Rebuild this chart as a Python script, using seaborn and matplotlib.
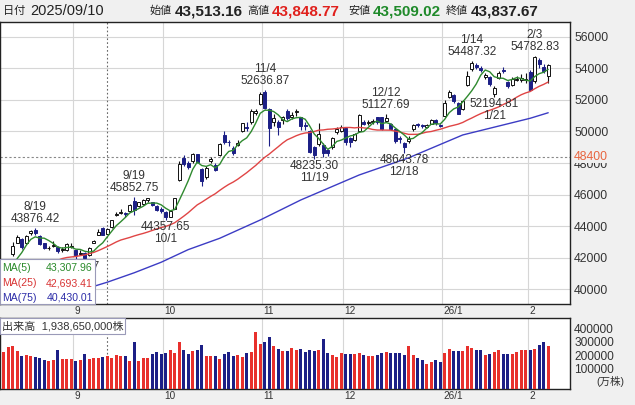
import numpy as np
import pandas as pd
import matplotlib
matplotlib.use("Agg")
import matplotlib.pyplot as plt
import matplotlib.transforms as mtransforms
from matplotlib.patches import Rectangle
import seaborn as sns

# ------------------------------------------------------------------ data
holidays = ["2025-08-11", "2025-09-15", "2025-09-23", "2025-10-13", "2025-11-03",
            "2025-11-24", "2025-12-31", "2026-01-01", "2026-01-02", "2026-01-12"]
trade_dates = pd.bdate_range("2025-08-07", "2026-02-06", freq="C", holidays=holidays)

open_ = [
    40950, 41300, 42200, 42950, 43200, 42900, 43550, 43750, 43350, 42900,
    42600, 42700, 42650, 42450, 42450, 42650, 42450, 42250, 42300, 42150,
    42950, 43450, 43900, 43513.16, 43950, 44700, 44850, 44850, 44950, 45600,
    45300, 45400, 45650, 45500, 45300, 45100, 44900, 44600, 45100, 46900,
    48300, 48000, 48100, 48550, 47650, 47100, 48150, 47900, 48500, 49750,
    49330, 48950, 49150, 50000, 50300, 50600, 51200, 51750, 52500, 51450,
    50600, 50600, 50700, 51300, 50950, 51250, 50900, 50400, 50000, 49000,
    49200, 49150, 48800, 49000, 49950, 50050, 50200, 49600, 49450, 50000,
    50600, 50550, 50600, 50900, 50900, 50650, 50450, 50150, 49600, 49300,
    49400, 50150, 50450, 50400, 50300, 50500, 50750, 50400, 51000, 52200,
    52300, 51800, 51400, 52950, 53950, 54250, 54050, 53450, 53450, 52350,
    53400, 53900, 53150, 52950, 53250, 53280, 53250, 53750, 53200, 54550,
    54100, 53500]
high = [
    41300, 41900, 42999, 43451, 43250, 43450, 43760, 43876.42, 43400, 42950,
    42750, 43050, 42700, 42650, 42900, 42900, 42500, 42450, 42350, 42650,
    43100, 43840, 43950, 43848.77, 44400, 44900, 45050, 44900, 45400, 45852.75,
    45550, 45700, 45800, 45550, 45350, 45200, 44950, 45000, 45800, 48150,
    48527, 48100, 48650, 48600, 47700, 47800, 48400, 48000, 49250, 50000,
    49450, 49100, 49450, 50550, 50600, 51400, 51450, 52500, 52636.87, 51500,
    51100, 50700, 51000, 51400, 51250, 51400, 50950, 50600, 50100, 49100,
    50550, 49300, 48900, 49650, 50300, 50400, 50250, 49650, 49900, 51100,
    50750, 50700, 50800, 50950, 50950, 51127.69, 50550, 50200, 49700, 49350,
    49700, 50500, 50550, 50500, 50450, 50800, 50800, 50500, 52000, 52650,
    52400, 51900, 52000, 53814, 54487.32, 54350, 54150, 53700, 53500, 52900,
    53850, 54100, 53200, 53450, 53550, 53650, 53700, 53900, 54782.83, 54650,
    54300, 54300]
low = [
    40800, 41200, 42100, 42900, 42550, 42850, 43400, 43450, 42800, 42550,
    42450, 42650, 42300, 42350, 42400, 42600, 41835.27, 42150, 41900, 42100,
    42900, 43400, 43450, 43509.02, 43900, 44650, 44750, 44600, 44900, 44700,
    45200, 45350, 45500, 45300, 44950, 44850, 44357.65, 44550, 45050, 46850,
    47800, 47600, 48000, 48000, 46550, 47000, 48000, 47500, 48450, 49200,
    49050, 48500, 49100, 49950, 50000, 50500, 51050, 51700, 51400, 49074,
    50350, 49800, 50500, 50700, 50800, 51000, 50100, 50100, 48650, 48235.30,
    49100, 48400, 48450, 48900, 49850, 49950, 49150, 49000, 49400, 49950,
    50400, 50400, 50500, 50500, 50100, 50600, 50100, 49300, 49300, 48643.78,
    49300, 50050, 50300, 50250, 50250, 50450, 50400, 50300, 50900, 52100,
    51800, 51100, 51350, 52900, 53850, 53950, 53800, 53350, 52900, 52194.81,
    53350, 53700, 52750, 52900, 53200, 53150, 53100, 52600, 53100, 54000,
    53700, 53100]
close = [
    41059.15, 41820.48, 42718.17, 43274.67, 42649.26, 43378.31, 43714.31, 43546.29, 42888.55, 42610.17,
    42633.29, 42807.82, 42394.40, 42520.27, 42828.79, 42718.47, 42188.79, 42310.49, 41938.89, 42580.27,
    43018.75, 43643.81, 43459.29, 43837.67, 44372.50, 44768.12, 44902.27, 44790.38, 45303.43, 45045.81,
    45493.66, 45630.31, 45754.93, 45354.99, 45043.75, 44932.63, 44550.85, 44936.73, 45769.50, 47944.76,
    47950.88, 47734.99, 48580.44, 48088.80, 46847.32, 47672.67, 48277.74, 47582.15, 49185.50, 49316.06,
    49307.79, 48641.61, 49299.65, 50512.32, 50219.18, 51307.65, 51325.61, 52411.34, 51497.20, 50212.27,
    50883.68, 50276.37, 50911.76, 50842.93, 51063.31, 51281.83, 50376.53, 50323.91, 48702.98, 48537.70,
    49823.94, 48625.88, 48659.52, 49559.07, 50167.10, 50253.91, 49303.28, 49303.45, 49864.68, 51028.42,
    50491.87, 50581.94, 50655.10, 50602.80, 50148.82, 50836.55, 50168.11, 49383.29, 49512.28, 49001.50,
    49507.21, 50402.39, 50412.87, 50344.10, 50407.79, 50750.39, 50526.92, 50339.48, 51832.80, 52518.08,
    51961.98, 51117.26, 51939.89, 53549.16, 54341.23, 54110.50, 53936.17, 53583.57, 52991.10, 52774.64,
    53688.89, 53846.87, 52885.25, 53333.54, 53358.71, 53375.60, 53322.85, 52655.18, 54720.66, 54293.36,
    53818.04, 54253.68]
volume = [  # 万株
    224000, 257000, 267000, 232000, 193000, 198000, 190000, 185000, 180000, 163000,
    158000, 163000, 237000, 170000, 170000, 170000, 158000, 165000, 205000, 172000,
    180000, 180000, 185000, 193865, 180000, 200000, 190000, 193000, 158000, 299000,
    158000, 180000, 180000, 205000, 220000, 207000, 215000, 240000, 215000, 299000,
    240000, 205000, 230000, 240000, 274000, 193000, 193000, 193000, 168000, 207000,
    222000, 190000, 200000, 188000, 215000, 222000, 373000, 281000, 299000, 333000,
    265000, 247000, 230000, 232000, 250000, 240000, 245000, 225000, 235000, 230000,
    240000, 320000, 215000, 200000, 185000, 215000, 205000, 205000, 205000, 215000,
    200000, 195000, 190000, 200000, 215000, 220000, 215000, 215000, 215000, 200000,
    265000, 200000, 180000, 165000, 130000, 150000, 160000, 150000, 215000, 245000,
    230000, 230000, 230000, 265000, 250000, 235000, 235000, 200000, 210000, 220000,
    240000, 210000, 210000, 205000, 220000, 240000, 240000, 240000, 245000, 275000,
    300000, 268000]

# closes before the first drawn day (only feed the moving averages)
warmup_close = [39785.90, 39810.88, 39587.68, 39688.81, 39821.28, 39646.36, 39569.68, 39459.62,
                39678.02, 39663.40, 39901.19, 39819.11, 39774.92, 41171.32, 41826.34, 41456.23,
                40998.27, 40674.55, 40654.70, 41069.82, 40799.60, 40290.70, 40549.54, 40794.86]

# 75-day moving average
ma75_idx = [12, 23, 29, 35, 41, 48, 57, 66, 79, 90, 102, 117, 121]
ma75_val = [39470, 40430, 41030, 41700, 42500, 43220, 44380, 45650, 47240, 48330, 49780, 50840, 51190]

price_ticks = [40000, 42000, 44000, 46000, 48000, 50000, 52000, 54000, 56000]
volume_ticks = [100000, 200000, 300000, 400000]
high_marks = [7, 29, 58, 85, 104, 118]
low_marks = [16, 36, 69, 89, 109]
cursor_idx = 23
cursor_price = 48400
ma_names = ["MA(5)", "MA(25)", "MA(75)"]
ma_texts = ["43,307.96", "42,693.41", "40,430.01"]

n = len(close)
assert len(trade_dates) == n == len(open_) == len(high) == len(low) == len(volume)

# ------------------------------------------------------------------ derived
idx = np.arange(n)
o = np.array(open_, float); h = np.array(high, float)
l = np.array(low, float); c = np.array(close, float)
up = c >= o
all_close = pd.Series(warmup_close + close)
ma5 = all_close.rolling(5).mean().iloc[len(warmup_close):].to_numpy()
ma25 = all_close.rolling(25).mean().iloc[len(warmup_close):].to_numpy()
df_vol = pd.DataFrame({"i": idx, "vol": volume, "dir": np.where(up, "up", "down")})

month_first = [i for i in range(1, n) if trade_dates[i].month != trade_dates[i - 1].month]
month_labels = [(f"{trade_dates[i].year % 100}/{trade_dates[i].month}" if trade_dates[i].month == 1
                 else f"{trade_dates[i].month}") for i in month_first]

# ------------------------------------------------------------------ style
sns.set_theme(style="white")
plt.rcParams["font.family"] = ["Liberation Sans", "Noto Sans CJK JP"]
NAVY = "#1c1f86"
RED = "#e8302c"
GREEN_MA = "#2f8a2f"
RED_MA = "#e04545"
BLUE_MA = "#3c3cc4"
GRID = "#d6d6d6"
TXT = "#333333"
BG = "#f0f0f0"

W, H = 635, 405
fig = plt.figure(figsize=(W / 100, H / 100), dpi=100, facecolor=BG)
def fy(py):
    return 1 - py / H

PX = 4.5          # pixels per trading day
X0 = -3.7 / PX
X1 = (570 - 3.7) / PX

ax = fig.add_axes([0, fy(304), 570 / W, (304 - 22) / H])
axv = fig.add_axes([0, fy(389), 570 / W, (389 - 318) / H])
for a in (ax, axv):
    a.set_facecolor("white")
    for s in a.spines.values():
        s.set_color("#222222"); s.set_linewidth(1.0)

# ------------------------------------------------------------------ price panel
ax.set_yticks(price_ticks)
ax.set_yticklabels([str(t) for t in price_ticks])
ax.yaxis.tick_right()
ax.tick_params(axis="y", length=0, pad=3, labelsize=8.8, labelcolor=TXT)
ax.set_xticks([])
for t in price_ticks:
    ax.axhline(t, color=GRID, lw=0.8, zorder=0)
for b in month_first:
    ax.axvline(b - 0.5, color=GRID, lw=0.8, zorder=0)
    axv.axvline(b - 0.5, color=GRID, lw=0.8, zorder=0)

# crosshair
ax.axvline(cursor_idx, color="#666666", lw=0.8, ls=(0, (1.5, 2)), zorder=1)
axv.axvline(cursor_idx, color="#666666", lw=0.8, ls=(0, (1.5, 2)), zorder=1)
ax.axhline(cursor_price, color="#888888", lw=0.8, ls=(0, (2, 2)), zorder=1)
ax.text(1 + 4 / 570, cursor_price, f"{cursor_price}",
        transform=mtransforms.blended_transform_factory(ax.transAxes, ax.transData),
        color="#e8653f", fontsize=8.8, va="center", ha="left", clip_on=False, zorder=30,
        bbox=dict(fc=BG, ec="none", pad=0.2))

# candles
wick_col = np.where(up, "#111111", NAVY)
ax.vlines(idx, l, h, colors=wick_col, lw=0.8, zorder=3)
body_bot = np.minimum(o, c)
body_h = np.maximum(np.abs(c - o), 25)
ax.bar(idx, body_h, bottom=body_bot, width=0.66,
       color=np.where(up, "white", NAVY), edgecolor=np.where(up, "#111111", NAVY),
       linewidth=0.7, zorder=4)

# moving averages
sns.lineplot(x=ma75_idx, y=ma75_val, ax=ax, color=BLUE_MA, lw=1.0, zorder=5)
sns.lineplot(x=idx, y=ma25, ax=ax, color=RED_MA, lw=1.0, zorder=5)
sns.lineplot(x=idx, y=ma5, ax=ax, color=GREEN_MA, lw=1.0, zorder=5)
ax.set_xlim(X0, X1)
ax.set_ylim(39048, 56952)
ax.set_xlabel(""); ax.set_ylabel("")

# high / low annotations
for i in high_marks:
    d = trade_dates[i]
    ax.annotate(f"{h[i]:.2f}", (i, h[i]), xytext=(0, 9), textcoords="offset pixels",
                ha="center", va="center", fontsize=8.5, color=TXT, zorder=6)
    ax.annotate(f"{d.month}/{d.day}", (i, h[i]), xytext=(0, 21), textcoords="offset pixels",
                ha="center", va="center", fontsize=8.5, color=TXT, zorder=6)
for i in low_marks:
    d = trade_dates[i]
    ax.annotate(f"{l[i]:.2f}", (i, l[i]), xytext=(0, -7), textcoords="offset pixels",
                ha="center", va="center", fontsize=8.5, color=TXT, zorder=6)
    ax.annotate(f"{d.month}/{d.day}", (i, l[i]), xytext=(0, -19), textcoords="offset pixels",
                ha="center", va="center", fontsize=8.5, color=TXT, zorder=6)

# MA legend box (opaque, covers the start of the lines like the source chart)
ax.add_patch(Rectangle((0, 0), 95 / 570, (304 - 259) / 282, transform=ax.transAxes,
                       fc="white", ec="#9a9ab8", lw=0.8, zorder=10, clip_on=False))
for k, (nm, vt, col) in enumerate(zip(ma_names, ma_texts, ["#2a8a2a", "#d83434", "#2c2ca8"])):
    yy = (304 - (268 + 15 * k)) / 282
    ax.text(2 / 570, yy, nm, transform=ax.transAxes, color=col, fontsize=7.6, va="center", ha="left", zorder=11)
    ax.text(93 / 570, yy, vt, transform=ax.transAxes, color=col, fontsize=7.6, va="center", ha="right", zorder=11)

# month labels (strip under price panel)
bt = mtransforms.blended_transform_factory(ax.transData, ax.transAxes)
for b, lab in zip(month_first, month_labels):
    ax.text(b - 0.5 + 1 / PX, -6.5 / 282, lab, transform=bt, ha="left", va="center",
            fontsize=7.2, color=TXT, clip_on=False)

# ------------------------------------------------------------------ volume panel
VMIN = -52000
sns.barplot(data=df_vol, x="i", y="vol", hue="dir", palette={"up": RED, "down": NAVY},
            native_scale=True, width=0.64, saturation=1, errorbar=None, legend=False,
            dodge=False, linewidth=0, ax=axv, zorder=3)
for p in axv.patches:          # bars start at the panel floor, as in the source chart
    p.set_height(p.get_height() - VMIN)
    p.set_y(VMIN)
axv.set_xlim(X0, X1)
axv.set_ylim(VMIN, 475000)
axv.set_xticks([])
axv.set_yticks(volume_ticks)
axv.set_yticklabels([str(t) for t in volume_ticks])
axv.yaxis.tick_right()
axv.tick_params(axis="y", length=0, pad=3, labelsize=8.6, labelcolor=TXT)
axv.set_xlabel(""); axv.set_ylabel("")
axv.text(1 + 26 / 570, 0, "(万株)",
         transform=mtransforms.blended_transform_factory(axv.transAxes, axv.transData),
         fontsize=7.6, color=TXT, va="center", ha="left", clip_on=False)

axv.add_patch(Rectangle((0, 1 - 16 / 71), 125 / 570, 16 / 71, transform=axv.transAxes,
                        fc="white", ec="#9a9ab8", lw=0.8, zorder=10, clip_on=False))
axv.text(2 / 570, 1 - 8 / 71, f"出来高  {volume[cursor_idx] * 10000:,.0f}株", transform=axv.transAxes,
         fontsize=8, color=TXT, va="center", ha="left", zorder=11)

btv = mtransforms.blended_transform_factory(axv.transData, axv.transAxes)
for b, lab in zip(month_first, month_labels):
    axv.text(b - 0.5 + 1 / PX, -7 / 71, lab, transform=btv, ha="left", va="center",
             fontsize=7.2, color=TXT, clip_on=False)

# ------------------------------------------------------------------ header
ci = cursor_idx
d = trade_dates[ci]
hy = fy(11)
fig.text(3 / W, hy, "日付", fontsize=8, color="#222222", va="center", ha="left")
fig.text(30 / W, hy, d.strftime("%Y/%m/%d"), fontsize=10.5, color="#222222", va="center", ha="left")
items = [("始値", 150, o[ci], "#222222"), ("高値", 247, h[ci], "#e0201c"),
         ("安値", 348, l[ci], "#1f8a2a"), ("終値", 446, c[ci], "#222222")]
for lab, x, val, col in items:
    fig.text(x / W, hy, lab, fontsize=8, color="#222222", va="center", ha="left")
    fig.text((x + 25) / W, hy, f"{val:,.2f}", fontsize=11, fontweight="bold", color=col,
             va="center", ha="left")

fig.savefig("out.png", dpi=100, facecolor=fig.get_facecolor())
